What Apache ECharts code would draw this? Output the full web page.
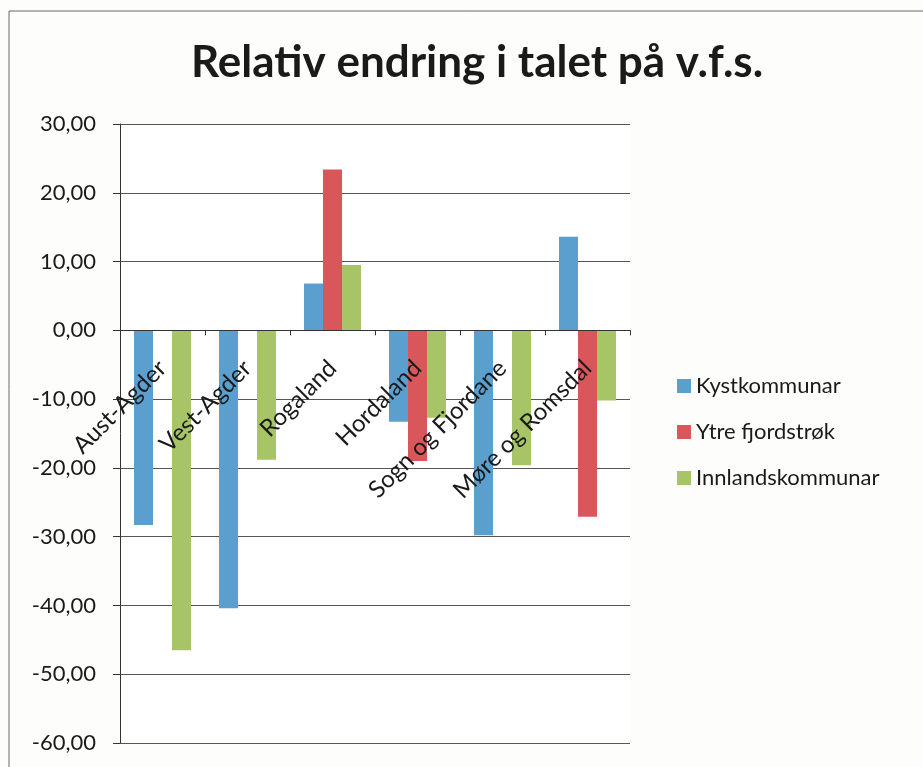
<!DOCTYPE html>
<html>
<head>
<meta charset="utf-8">
<script src="https://cdn.jsdelivr.net/npm/echarts@6/dist/echarts.min.js"></script>
<style>
  html, body { margin: 0; padding: 0; background: #fdfdfb; }
  #chart { width: 923px; height: 767px; }
</style>
</head>
<body>
<div id="chart"></div>
<script>
// data
var categories = ['Aust-Agder', 'Vest-Agder', 'Rogaland', 'Hordaland', 'Sogn og Fjordane', 'Møre og Romsdal'];
var kystkommunar = [-28.3, -40.4, 6.8, -13.3, -29.8, 13.6];
var ytreFjordstrok = [null, null, 23.4, -19.0, null, -27.1];
var innlandskommunar = [-46.5, -18.8, 9.5, -12.7, -19.6, -10.2];

(function () {
  var myChart = echarts.init(document.getElementById('chart'));
  var font = 'Lato, "Open Sans", sans-serif';

  // plot area: top 124, bottom 743 -> zero line sits 30/90 of the way down
  var gridTop = 124, gridBottom = 743;
  var zeroOffset = -(gridBottom - (gridTop + (gridBottom - gridTop) * 30 / 90));

  var option = {
    backgroundColor: '#fdfdfb',
    textStyle: { fontFamily: font },
    title: {
      text: 'Relativ endring i talet på v.f.s.',
      left: 472,
      textAlign: 'center',
      top: 36,
      textStyle: { fontFamily: font, fontSize: 44, fontWeight: 'bold', color: '#1a1a1a' }
    },
    legend: {
      orient: 'vertical',
      left: 672,
      top: 370,
      itemGap: 24,
      itemWidth: 14,
      itemHeight: 14,
      icon: 'rect',
      textStyle: { fontFamily: font, fontSize: 22, color: '#1a1a1a' },
      data: ['Kystkommunar', 'Ytre fjordstrøk', 'Innlandskommunar']
    },
    graphic: [
      {
        type: 'rect',
        shape: { x: 9, y: 11, width: 930, height: 780 },
        style: { fill: null, stroke: '#666', lineWidth: 1 },
        silent: true
      },
      {
        type: 'rect',
        shape: { x: 120, y: 124, width: 510, height: 619 },
        style: { fill: '#ffffff' },
        silent: true,
        z: -1
      }
    ],
    grid: {
      left: 120,
      right: 293,
      top: gridTop,
      bottom: 767 - gridBottom,
      containLabel: false,
      outerBoundsMode: 'none'
    },
    xAxis: {
      type: 'category',
      data: categories,
      z: 10,
      offset: zeroOffset,
      axisLine: { onZero: false, lineStyle: { color: '#333', width: 1 } },
      axisTick: { show: true, length: 5, lineStyle: { color: '#333' } },
      axisLabel: {
        rotate: 45,
        margin: 34,
        interval: 0,
        fontFamily: font,
        fontSize: 24,
        color: '#1a1a1a'
      }
    },
    yAxis: {
      type: 'value',
      min: -60,
      max: 30,
      interval: 10,
      axisLine: { show: true, lineStyle: { color: '#333', width: 1 } },
      axisTick: { show: true, length: 7, lineStyle: { color: '#333' } },
      splitLine: { lineStyle: { color: '#555', width: 1 } },
      axisLabel: {
        margin: 24,
        fontFamily: font,
        fontSize: 22,
        color: '#1a1a1a',
        formatter: function (v) { return v.toFixed(2).replace('.', ','); }
      }
    },
    series: [
      {
        name: 'Kystkommunar',
        type: 'bar',
        data: kystkommunar,
        barWidth: 19,
        barGap: '0%',
        itemStyle: { color: '#5b9fcf' }
      },
      {
        name: 'Ytre fjordstrøk',
        type: 'bar',
        data: ytreFjordstrok,
        barWidth: 19,
        barGap: '0%',
        itemStyle: { color: '#d9575a' }
      },
      {
        name: 'Innlandskommunar',
        type: 'bar',
        data: innlandskommunar,
        barWidth: 19,
        barGap: '0%',
        itemStyle: { color: '#a7c467' }
      }
    ]
  };

  myChart.setOption(option);
  window.addEventListener('resize', function () {
    myChart.resize();
  });
})();
</script>
</body>
</html>
